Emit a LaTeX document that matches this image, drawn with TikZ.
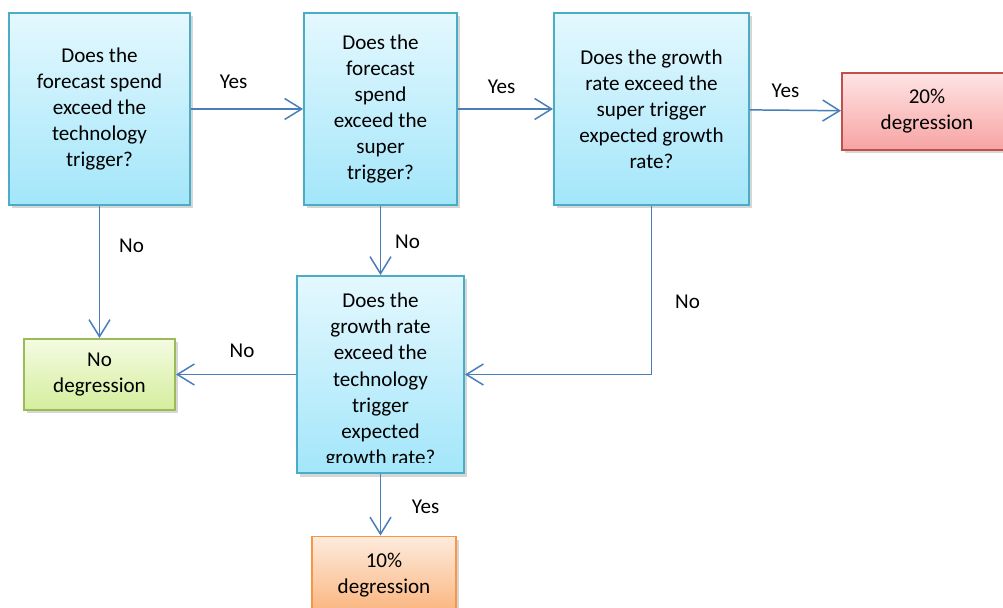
\documentclass[tikz,border=0pt]{standalone}
\usepackage{fontspec}
\setmainfont{Carlito}
\usetikzlibrary{arrows,arrows.meta,shadows}
\definecolor{qedge}{HTML}{4BACC6}
\definecolor{qtop}{HTML}{E4F8FE}
\definecolor{qbot}{HTML}{A3E6FA}
\definecolor{gedge}{HTML}{9BBB59}
\definecolor{gtop}{HTML}{F4FBE2}
\definecolor{gbot}{HTML}{D4EE9C}
\definecolor{redge}{HTML}{C0504D}
\definecolor{rtop}{HTML}{FFE4E4}
\definecolor{rbot}{HTML}{F7A3A3}
\definecolor{oedge}{HTML}{F79646}
\definecolor{otop}{HTML}{FDEBDD}
\definecolor{obot}{HTML}{FBB47C}
\definecolor{arrblue}{HTML}{4A7EBB}

\begin{document}
\begin{tikzpicture}[font=\fontsize{12}{14.85}\selectfont]
\tikzstyle {sq1}=[rectangle, align=center, line width=1.1pt, drop shadow={shadow xshift=0.06cm, shadow yshift=-0.07cm, fill=black!45, opacity=0.35}]
\tikzstyle {qbox}=[sq1, draw=qedge, top color=qtop, bottom color=qbot, minimum height=3.84cm]
\tikzstyle {sqg}=[sq1, draw=gedge, top color=gtop, bottom color=gbot, minimum width=3.02cm, minimum height=1.42cm]
\tikzstyle {sqr}=[sq1, draw=redge, top color=rtop, bottom color=rbot, minimum width=3.4cm, minimum height=1.54cm]
\tikzstyle {sqo}=[sq1, draw=oedge, top color=otop, bottom color=obot, minimum width=2.88cm, minimum height=1.56cm]
\tikzstyle {txtonly}=[rectangle, align=center]
\tikzstyle {link}=[draw=arrblue, line width=0.85pt, -{Straight Barb[length=0.34cm,width=0.42cm]}]
\fill [white] (0,0) rectangle (20.06,-12.16);
\useasboundingbox (0,0) rectangle (20.06,-12.16);
\node (q1) [qbox, minimum width=3.62cm] at (1.99,-2.18) {Does the\\forecast spend\\exceed the\\technology\\trigger?};
\node (q2) [qbox, minimum width=3.06cm, node distance=5.62cm, right of=q1] {Does the\\forecast\\spend\\exceed the\\super\\trigger?};
\node (q3) [qbox, minimum width=3.9cm, node distance=5.42cm, right of=q2] {Does the growth\\rate exceed the\\super trigger\\expected growth\\rate?};
\node (r20) [sqr, node distance=5.51cm, right of=q3, yshift=-0.05cm] {20\%\\degression};
\node (q4) [qbox, minimum width=3.34cm, minimum height=3.94cm, node distance=5.31cm, below of=q2] {};
\node (r0) [sqg, node distance=5.62cm, left of=q4] {No\\degression};
\node (r10) [sqo, node distance=4.02cm, below of=q4, xshift=0.07cm] {10\%\\degression};
\begin{scope}
\clip ([yshift=0.22cm]q4.south west) rectangle (q4.north east);
\node (t4) [txtonly] at ([yshift=-0.12cm]q4.center) {Does the\\growth rate\\exceed the\\technology\\trigger\\expected\\growth rate?};
\end{scope}
\draw [link] (q1) -- node[pos=0.38, yshift=0.54cm] {Yes} (q2);
\draw [link] (q2) -- node[pos=0.46, yshift=0.44cm] {Yes} (q3);
\draw [link] (q3) -- node[pos=0.39, yshift=0.38cm] {Yes} (r20);
\draw [link] (q1) -- node[pos=0.3, xshift=0.64cm] {No} (r0);
\draw [link] (q2) -- node[pos=0.52, xshift=0.54cm] {No} (q4);
\draw [link] (q3) |- node[pos=0.285, xshift=0.72cm] {No} (q4);
\draw [link] (q4) -- node[pos=0.45, yshift=0.48cm] {No} (r0);
\draw [link] (q4.south) -- node[pos=0.53, xshift=0.9cm] {Yes} (q4.south |- r10.north);
\end{tikzpicture}
\end{document}
